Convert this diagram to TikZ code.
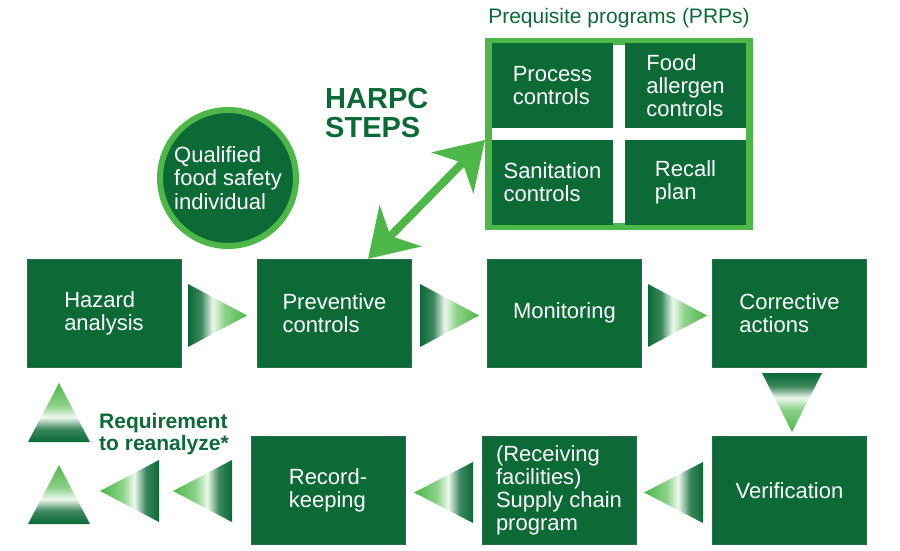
\documentclass[tikz,border=0pt]{standalone}
\usepackage{fontspec}
\setmainfont{Liberation Sans}
\usetikzlibrary{arrows.meta,calc}

\definecolor{dkgreen}{HTML}{0B6A36}
\definecolor{ltgreen}{HTML}{4DB848}

\pgfdeclarehorizontalshading{fade}{100bp}{color(0bp)=(dkgreen); color(25bp)=(dkgreen); color(36bp)=(dkgreen!80!white); color(46bp)=(white!90!ltgreen); color(56bp)=(ltgreen!65!white); color(75bp)=(ltgreen); color(100bp)=(ltgreen)}

\begin{document}
\begin{tikzpicture}[x=1pt,y=-1pt,
  stepbox/.style={fill=dkgreen,draw=dkgreen!75!gray,text=white,align=left,
    minimum width=154pt,minimum height=108pt,font=\fontsize{22}{23}\selectfont},
  prpbox/.style={fill=dkgreen,text=white,align=left,
    minimum width=121pt,minimum height=85pt,font=\fontsize{22}{23}\selectfont},
  tri/.style={shading=fade,shading angle=#1},
  dblarrow/.style={ltgreen,line width=8pt,
    arrows={Stealth[length=46pt,width=58pt,inset=14pt]-Stealth[length=46pt,width=58pt,inset=14pt]}},
  heading/.style={text=dkgreen,inner sep=0pt,align=left}]

  \useasboundingbox (0,0) rectangle (900,550);

  % top row
  \node[stepbox] (haz)  at (104,313)   {Hazard\\analysis};
  \node[stepbox] (prev) at (334.5,313) {Preventive\\controls};
  \node[stepbox] (mon)  at (564.5,313) {Monitoring};
  \node[stepbox] (corr) at (789.5,313) {Corrective\\actions};

  % bottom row
  \node[stepbox] (ver) at (789.5,490.5) {Verification};
  \node[stepbox] (sup) at (559,490.5)   {(Receiving\\facilities)\\Supply chain\\program};
  \node[stepbox] (rec) at (328,490.5)   {Record-\\keeping};

  % prerequisite programs
  \node[heading,font=\fontsize{21}{23}\selectfont] (prptitle) at (619,18) {Prequisite programs (PRPs)};
  \node[draw=ltgreen,line width=7pt,fill=white,minimum width=261pt,minimum height=185pt] (prp) at (619,134) {};
  \node[prpbox] (proc) at (552.5,85.5)  {Process\\controls};
  \node[prpbox] (alg)  at (685.5,85.5)  {Food\\allergen\\controls};
  \node[prpbox] (san)  at (552.5,182.5) {Sanitation\\controls};
  \node[prpbox] (rcl)  at (685.5,182.5) {Recall\\plan};

  \node[heading,anchor=north west,font=\bfseries\fontsize{29}{29}\selectfont] (harpc) at (325,88) {HARPC\\STEPS};

  \node[circle,fill=dkgreen,draw=ltgreen,line width=6pt,minimum size=136pt,inner sep=0pt,
    text=white,align=left,font=\fontsize{22}{23.5}\selectfont] (qfs) at (228,178) {Qualified\\food safety\\individual};

  \coordinate (a1) at ($(prev.north)+(33.5,0)$);
  \coordinate (a2) at ($(prp.west)+(0,6)$);
  \draw[dblarrow] (a1) -- (a2);

  % flow triangles
  \path[tri=0] (188,284) -- (247,315.5) -- (188,347) -- cycle;
  \path[tri=0] (420,284) -- (479,315.5) -- (420,347) -- cycle;
  \path[tri=0] (648,284) -- (707,315.5) -- (648,347) -- cycle;
  \path[tri=-90] (762,373) -- (822,373) -- (792,432) -- cycle;
  \path[tri=180] (703,462) -- (644,492.5) -- (703,523) -- cycle;
  \path[tri=180] (473,462) -- (414,492.5) -- (473,523) -- cycle;
  \path[tri=180] (232,460) -- (173,491) -- (232,522) -- cycle;
  \path[tri=180] (159,460) -- (100,491) -- (159,522) -- cycle;
  \path[tri=90] (28,442) -- (59,383) -- (90,442) -- cycle;
  \path[tri=90] (28,524) -- (59,465) -- (90,524) -- cycle;

  \node[heading,anchor=west,font=\bfseries\fontsize{21}{22}\selectfont] (reana) at (99,434) {Requirement\\to reanalyze*};

\end{tikzpicture}
\end{document}
